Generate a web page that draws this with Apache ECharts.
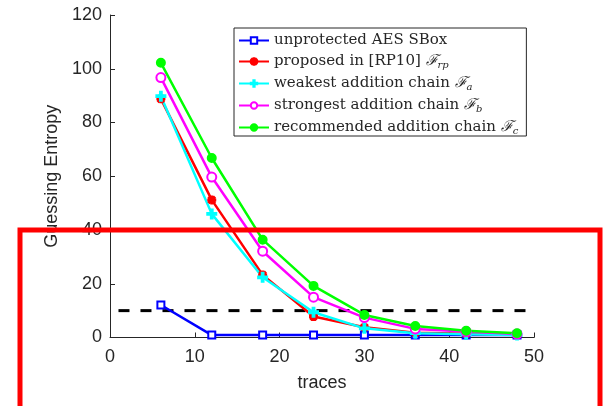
<!DOCTYPE html>
<html>
<head>
<meta charset="utf-8">
<script src="https://cdn.jsdelivr.net/npm/echarts@6/dist/echarts.min.js"></script>
<style>
html,body{margin:0;padding:0;background:#fff;}
#chart{width:603px;height:406px;}
</style>
</head>
<body>
<div id="chart"></div>
<script>
// data
var traces = [6, 12, 18, 24, 30, 36, 42, 48];
var unprotected = [12.1, 0.9, 0.9, 0.9, 0.9, 0.9, 0.9, 0.9];
var proposed = [88.8, 51.2, 23.3, 7.8, 3.8, 1.8, 1.4, 1.0];
var weakest = [89.8, 46.0, 22.4, 9.4, 3.4, 1.6, 1.2, 0.9];
var strongest = [96.7, 59.7, 32.1, 15.0, 7.4, 3.2, 2.2, 1.3];
var recommended = [102.2, 66.8, 36.4, 19.2, 8.4, 4.3, 2.5, 1.6];
var thresholdX = [1, 49];
var thresholdY = 10;
var names = ['unprotected AES SBox', 'proposed in [RP10] ', 'weakest addition chain ', 'strongest addition chain ', 'recommended addition chain '];
var subs = ['', 'rp', 'a', 'b', 'c'];

function pairs(xs, ys){
	var out = [];
	for(var i=0;i<xs.length;i++){ out.push([xs[i], ys[i]]); }
	return out;
}

var plusPath = 'path://M4,0H6V4H10V6H6V10H4V6H0V4H4Z';
var starPath = 'path://M4.3,0H5.7V3.3L8.2,0.8L9.2,1.8L6.7,4.3H10V5.7H6.7L9.2,8.2L8.2,9.2L5.7,6.7V10H4.3V6.7L1.8,9.2L0.8,8.2L3.3,5.7H0V4.3H3.3L0.8,1.8L1.8,0.8L4.3,3.3Z';

function lineSeries(name, data, color, symbol, size){
	return {
		name: name,
		type: 'line',
		data: pairs(traces, data),
		symbol: symbol,
		symbolSize: size,
		showAllSymbol: true,
		lineStyle: {color: color, width: 2.5},
		itemStyle: {color: color, borderColor: color, borderWidth: 2},
		emphasis: {disabled: true},
		animation: false
	};
}

var myChart = echarts.init(document.getElementById('chart'));
var option = {
	animation: false,
	grid: {left: 110, right: 69, top: 15, bottom: 68.5},
	xAxis: {
		type: 'value',
		min: 0, max: 50, interval: 10,
		name: 'traces',
		nameLocation: 'middle',
		nameGap: 37,
		nameTextStyle: {fontFamily: 'Liberation Sans', fontSize: 18, color: '#262626'},
		axisLine: {lineStyle: {color: '#262626', width: 1}},
		axisTick: {inside: true, length: 5, lineStyle: {color: '#262626'}},
		axisLabel: {fontFamily: 'Liberation Sans', fontSize: 18, color: '#262626', margin: 11},
		splitLine: {show: false}
	},
	yAxis: {
		type: 'value',
		min: 0, max: 120, interval: 20,
		name: 'Guessing Entropy',
		nameLocation: 'middle',
		nameGap: 36,
		nameTextStyle: {fontFamily: 'Liberation Sans', fontSize: 18, color: '#262626'},
		axisLine: {show: true, lineStyle: {color: '#262626', width: 1}},
		axisTick: {show: true, inside: true, length: 5, lineStyle: {color: '#262626'}},
		axisLabel: {fontFamily: 'Liberation Sans', fontSize: 18, color: '#262626', margin: 8},
		splitLine: {show: false}
	},
	legend: {
		data: names,
		orient: 'vertical',
		left: 234,
		top: 28,
		padding: [5, 8, 0, 4],
		itemWidth: 30,
		itemHeight: 8,
		itemGap: 5,
		borderColor: '#262626',
		borderWidth: 1,
		backgroundColor: '#fff',
		formatter: function(name){
			var i = names.indexOf(name);
			if(!subs[i]) return '{t|' + name + '}';
			return '{t|' + name + '}{f|ℱ}{s|' + subs[i] + '}';
		},
		textStyle: {
			color: '#262626',
			lineHeight: 14,
			rich: {
				t: {fontFamily: 'DejaVu Serif', fontSize: 15, color: '#262626', lineHeight: 14},
				f: {fontFamily: 'DejaVu Serif', fontStyle: 'italic', fontSize: 15, color: '#262626', lineHeight: 14},
				s: {fontFamily: 'DejaVu Serif', fontStyle: 'italic', fontSize: 10, color: '#262626', lineHeight: 14, padding: [7, 0, 0, 0]}
			}
		}
	},
	series: [
		lineSeries(names[0], unprotected, '#0000ff', 'emptyRect', 7),
		lineSeries(names[1], proposed, '#ff0000', starPath, 7),
		lineSeries(names[2], weakest, '#00ffff', plusPath, 9),
		lineSeries(names[3], strongest, '#ff00ff', 'emptyCircle', 9),
		lineSeries(names[4], recommended, '#00ff00', 'circle', 8),
		{
			name: 'threshold',
			type: 'line',
			data: [[thresholdX[0], thresholdY], [thresholdX[1], thresholdY]],
			symbol: 'none',
			lineStyle: {color: '#000', width: 3, type: [11, 11]},
			z: 1,
			animation: false
		}
	],
	graphic: [{
		type: 'rect',
		z: 100,
		shape: {x: 20, y: 230, width: 580, height: 190},
		style: {fill: 'none', stroke: '#ff0000', lineWidth: 5}
	}]
};
myChart.setOption(option);
</script>
</body>
</html>
